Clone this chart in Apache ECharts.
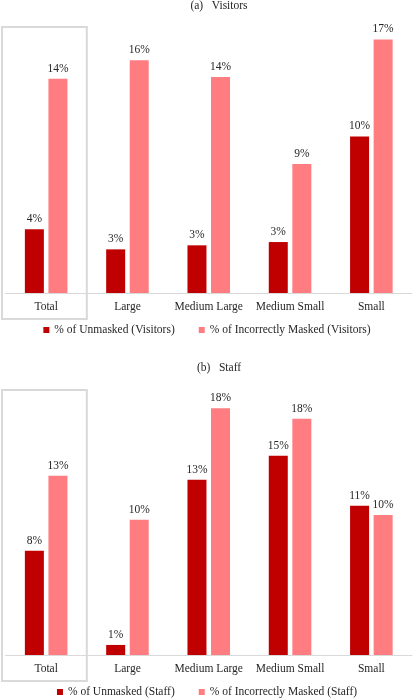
<!DOCTYPE html>
<html><head><meta charset="utf-8">
<script src="https://cdn.jsdelivr.net/npm/echarts@6/dist/echarts.min.js"></script>
<style>html,body{margin:0;padding:0;background:#fff}#c{width:414px;height:700px}</style>
</head><body><div id="c"></div>
<script>
const categories = ['Total', 'Large', 'Medium Large', 'Medium Small', 'Small'];
const visitorsUnmasked = [4.26, 2.92, 3.19, 3.41, 10.48];
const visitorsIncorrect = [14.33, 15.57, 14.45, 8.63, 16.97];
const staffUnmasked = [7.78, 0.75, 13.08, 14.87, 11.14];
const staffIncorrect = [13.38, 10.10, 18.41, 17.63, 10.45];
const seriesNames = ['% of Unmasked (Visitors)', '% of Incorrectly Masked (Visitors)', '% of Unmasked (Staff)', '% of Incorrectly Masked (Staff)'];
const titles = ['(a)   Visitors', '(b)   Staff'];

const FONT = "'Liberation Serif', 'Times New Roman', serif";
const FS = 11.5;
const TXT = '#262626';
const DARK = '#C00000';
const PINK = '#FF7C80';

const chart = echarts.init(document.getElementById('c'));
const label = {show: true, position: 'top', distance: 4, fontFamily: FONT, fontSize: FS, color: TXT,
  formatter: p => Math.round(p.value) + '%'};
function bar(name, data, idx, color) {
  return {name, type: 'bar', data, xAxisIndex: idx, yAxisIndex: idx, barWidth: 19, barGap: '24%',
    itemStyle: {color}, label, emphasis: {disabled: true}};
}
const xAx = idx => ({type: 'category', gridIndex: idx, data: categories,
  axisLine: {lineStyle: {color: '#d9d9d9', width: 1}}, axisTick: {show: false},
  axisLabel: {fontFamily: FONT, fontSize: FS, color: TXT, margin: 8, interval: 0}});
const yAx = (idx, max) => ({type: 'value', gridIndex: idx, min: 0, max, show: false, splitLine: {show: false}});
const legendText = {fontFamily: FONT, fontSize: FS, color: TXT};
chart.setOption({
  animation: false,
  title: [
    {text: titles[0], left: 219, textAlign: 'center', top: 0, padding: 0, textStyle: {fontFamily: FONT, fontSize: FS, fontWeight: 'normal', color: TXT}},
    {text: titles[1], left: 219, textAlign: 'center', top: 362, padding: 0, textStyle: {fontFamily: FONT, fontSize: FS, fontWeight: 'normal', color: TXT}}
  ],
  legend: [
    {data: [seriesNames[0], seriesNames[1]], left: 'center', top: 324, itemWidth: 6, itemHeight: 6, itemGap: 24, icon: 'rect', textStyle: legendText, padding: 0},
    {data: [seriesNames[2], seriesNames[3]], left: 'center', top: 686, itemWidth: 6, itemHeight: 6, itemGap: 24, icon: 'rect', textStyle: legendText, padding: 0}
  ],
  grid: [
    {left: 5.5, right: 2, top: 24, height: 269},
    {left: 5.5, right: 2, top: 387, height: 268}
  ],
  xAxis: [xAx(0), xAx(1)],
  yAxis: [yAx(0, 18), yAx(1, 20)],
  series: [
    bar(seriesNames[0], visitorsUnmasked, 0, DARK),
    bar(seriesNames[1], visitorsIncorrect, 0, PINK),
    bar(seriesNames[2], staffUnmasked, 1, DARK),
    bar(seriesNames[3], staffIncorrect, 1, PINK)
  ]
});

// highlight box around the "Total" category in each panel
const boxes = [];
[0, 1].forEach(idx => {
  const c0 = chart.convertToPixel({xAxisIndex: idx}, categories[0]);
  const c1 = chart.convertToPixel({xAxisIndex: idx}, categories[1]);
  const band = c1 - c0;
  const topY = chart.convertToPixel({yAxisIndex: idx}, idx === 0 ? 18 : 20);
  const baseY = chart.convertToPixel({yAxisIndex: idx}, 0);
  boxes.push({type: 'rect', shape: {x: c0 - band / 2 - 3.5, y: topY + 3, width: band + 3.5, height: baseY - topY + 23},
    style: {fill: 'none', stroke: '#d9d9d9', lineWidth: 2}, silent: true});
});
chart.setOption({graphic: boxes});
</script></body></html>
